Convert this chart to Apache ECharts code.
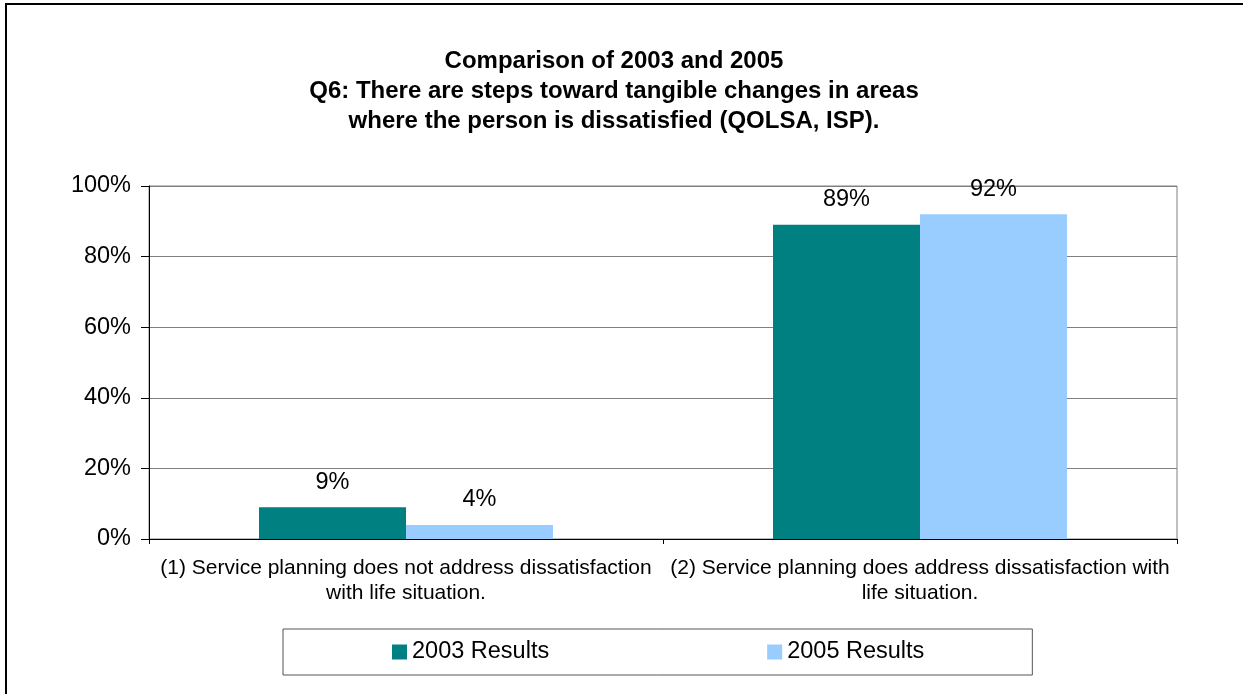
<!DOCTYPE html>
<html><head><meta charset="utf-8">
<script src="https://cdn.jsdelivr.net/npm/echarts@6/dist/echarts.min.js"></script>
<style>html,body{margin:0;padding:0;background:#fff;}#c{width:1243px;height:694px;}</style>
</head><body><div id="c"></div>
<script>
var titleLines = ['Comparison of 2003 and 2005', 'Q6: There are steps toward tangible changes in areas', 'where the person is dissatisfied (QOLSA, ISP).'];
var categories = ['(1) Service planning does not address dissatisfaction\nwith life situation.', '(2) Service planning does address dissatisfaction with\nlife situation.'];
var seriesNames = ['2003 Results', '2005 Results'];
var values2003 = [9, 89];
var values2005 = [4, 92];
var yTicks = [0, 20, 40, 60, 80, 100];
var colors = ['#008080', '#99CCFF'];
var FONT = '"Liberation Sans", Arial, sans-serif';

var chart = echarts.init(document.getElementById('c'), null, {renderer: 'canvas'});
function barSeries(name, data, color) {
  return {
    name: name, type: 'bar', data: data, barGap: '0%', barCategoryGap: '42.8%',
    itemStyle: {color: color},
    label: {show: true, position: 'top', distance: 13, formatter: '{c}%', color: '#000', fontFamily: FONT, fontSize: 23.5}
  };
}
chart.setOption({
  animation: false,
  backgroundColor: '#fff',
  title: {
    text: titleLines.join('\n'), left: 614, top: 46, textAlign: 'center',
    padding: 0,
    textStyle: {fontFamily: FONT, fontWeight: 'bold', fontSize: 24, lineHeight: 30, color: '#000'}
  },
  graphic: [{type: 'rect', shape: {x: 6, y: 4, width: 1260, height: 720}, style: {fill: 'none', stroke: '#000', lineWidth: 2}, z: 100}],
  legend: {
    data: seriesNames, left: 283, top: 629, orient: 'horizontal',
    itemWidth: 15, itemHeight: 15, itemGap: 218,
    padding: [11, 108, 11, 109], borderColor: '#555', borderWidth: 1,
    icon: 'rect',
    textStyle: {fontFamily: FONT, fontSize: 23.5, color: '#000'}
  },
  grid: {left: 149, top: 186, right: 66, bottom: 155, show: true, borderColor: '#808080', borderWidth: 1},
  xAxis: {
    type: 'category', data: categories,
    axisLine: {lineStyle: {color: '#000'}},
    axisTick: {show: true, length: 5, lineStyle: {color: '#000'}},
    axisLabel: {fontFamily: FONT, fontSize: 21, color: '#000', lineHeight: 25, margin: 17, interval: 0}
  },
  yAxis: {
    type: 'value', min: 0, max: 100, interval: 20,
    axisLine: {show: true, lineStyle: {color: '#000'}},
    axisTick: {show: true, length: 8, lineStyle: {color: '#000'}},
    splitLine: {lineStyle: {color: '#808080'}},
    axisLabel: {fontFamily: FONT, fontSize: 23.5, color: '#000', margin: 18,
      formatter: function (v) { return yTicks.indexOf(v) >= 0 ? v + '%' : ''; }}
  },
  series: [barSeries(seriesNames[0], values2003, colors[0]), barSeries(seriesNames[1], values2005, colors[1])]
});
</script></body></html>
